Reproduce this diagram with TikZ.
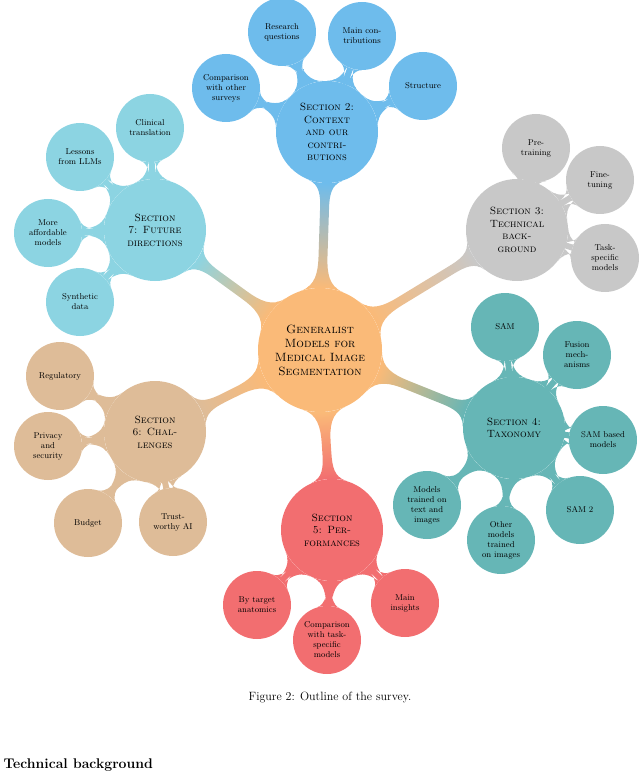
\documentclass[tikz,border=0pt]{standalone}
\usetikzlibrary{mindmap}
\definecolor{cblue}{RGB}{110,188,236}
\definecolor{ccyan}{RGB}{140,212,226}
\definecolor{cgray}{RGB}{200,200,200}
\definecolor{cteal}{RGB}{102,182,182}
\definecolor{cred}{RGB}{242,110,112}
\definecolor{ctan}{RGB}{222,188,152}
\definecolor{corange}{RGB}{250,186,120}
\begin{document}
\begin{tikzpicture}[x=1pt,y=-1pt,
  core/.style={circle,fill=corange,inner sep=0pt,minimum size=124pt,align=center,font=\fontsize{12}{14}\selectfont\scshape},
  sect/.style={circle,fill=#1,inner sep=0pt,minimum size=102pt,align=center,font=\fontsize{10.5}{12.5}\selectfont\scshape},
  leaf/.style={circle,fill=#1,inner sep=0pt,minimum size=68pt,align=center,font=\fontsize{8.5}{10}\selectfont},
  bar/.style args={#1/#2}{mindmap,circle connection bar switch color=from (#1) to (#2)}]
\useasboundingbox (0,0) rectangle (640,775);
\node[core] (c) at (320,350) {Generalist\\Models for\\Medical Image\\Segmentation};
\node[sect=cblue] (s2) at (327,132) {Section 2:\\Context\\and our\\contri-\\butions};
\node[sect=cgray] (s3) at (517,230) {Section 3:\\Technical\\back-\\ground};
\node[sect=cteal] (s4) at (514,428) {Section 4:\\Taxonomy};
\node[sect=cred] (s5) at (332,530) {Section\\5: Per-\\formances};
\node[sect=ctan] (s6) at (155,432) {Section\\6: Chal-\\lenges};
\node[sect=ccyan] (s7) at (155,230) {Section\\7: Future\\directions};
\path (c) to[bar=corange/cblue] (s2);
\path (c) to[bar=corange/cgray] (s3);
\path (c) to[bar=corange/cteal] (s4);
\path (c) to[bar=corange/cred] (s5);
\path (c) to[bar=corange/ctan] (s6);
\path (c) to[bar=corange/ccyan] (s7);
% section 2
\node[leaf=cblue] (a1) at (282,32) {Research\\questions};
\node[leaf=cblue] (a2) at (362,36) {Main con-\\tributions};
\node[leaf=cblue] (a3) at (423,86) {Structure};
\node[leaf=cblue] (a4) at (226,88) {Comparison\\with other\\surveys};
\foreach \n in {a1,a2,a3,a4} \path (s2) to[bar=cblue/cblue] (\n);
% section 3
\node[leaf=cgray] (b1) at (536,148) {Pre-\\training};
\node[leaf=cgray] (b2) at (600,180) {Fine-\\tuning};
\node[leaf=cgray] (b3) at (605,258) {Task-\\specific\\models};
\foreach \n in {b1,b2,b3} \path (s3) to[bar=cgray/cgray] (\n);
% section 4
\node[leaf=cteal] (d1) at (505,327) {SAM};
\node[leaf=cteal] (d2) at (577,355) {Fusion\\mech-\\anisms};
\node[leaf=cteal] (d3) at (603,440) {SAM based\\models};
\node[leaf=cteal] (d4) at (580,510) {SAM 2};
\node[leaf=cteal] (d5) at (501,540) {Other\\models\\trained\\on images};
\node[leaf=cteal] (d6) at (427,505) {Models\\trained on\\text and\\images};
\foreach \n in {d1,d2,d3,d4,d5,d6} \path (s4) to[bar=cteal/cteal] (\n);
% section 5
\node[leaf=cred] (e1) at (257,605) {By target\\anatomics};
\node[leaf=cred] (e2) at (327,640) {Comparison\\with task-\\specific\\models};
\node[leaf=cred] (e3) at (405,603) {Main\\insights};
\foreach \n in {e1,e2,e3} \path (s5) to[bar=cred/cred] (\n);
% section 6
\node[leaf=ctan] (f1) at (60,376) {Regulatory};
\node[leaf=ctan] (f2) at (48,446) {Privacy\\and\\security};
\node[leaf=ctan] (f3) at (88,523) {Budget};
\node[leaf=ctan] (f4) at (173,522) {Trust-\\worthy AI};
\foreach \n in {f1,f2,f3,f4} \path (s6) to[bar=ctan/ctan] (\n);
% section 7
\node[leaf=ccyan] (g1) at (150,128) {Clinical\\translation};
\node[leaf=ccyan] (g2) at (80,157) {Lessons\\from LLMs};
\node[leaf=ccyan] (g3) at (48,233) {More\\affordable\\models};
\node[leaf=ccyan] (g4) at (80,302) {Synthetic\\data};
\foreach \n in {g1,g2,g3,g4} \path (s7) to[bar=ccyan/ccyan] (\n);
\node[font=\fontsize{12}{14}\selectfont] (cap) at (330,697) {Figure 2: Outline of the survey.};
\node[anchor=west,font=\fontsize{14}{16}\selectfont\bfseries] (tb) at (0,765) {Technical background};
\end{tikzpicture}
\end{document}
